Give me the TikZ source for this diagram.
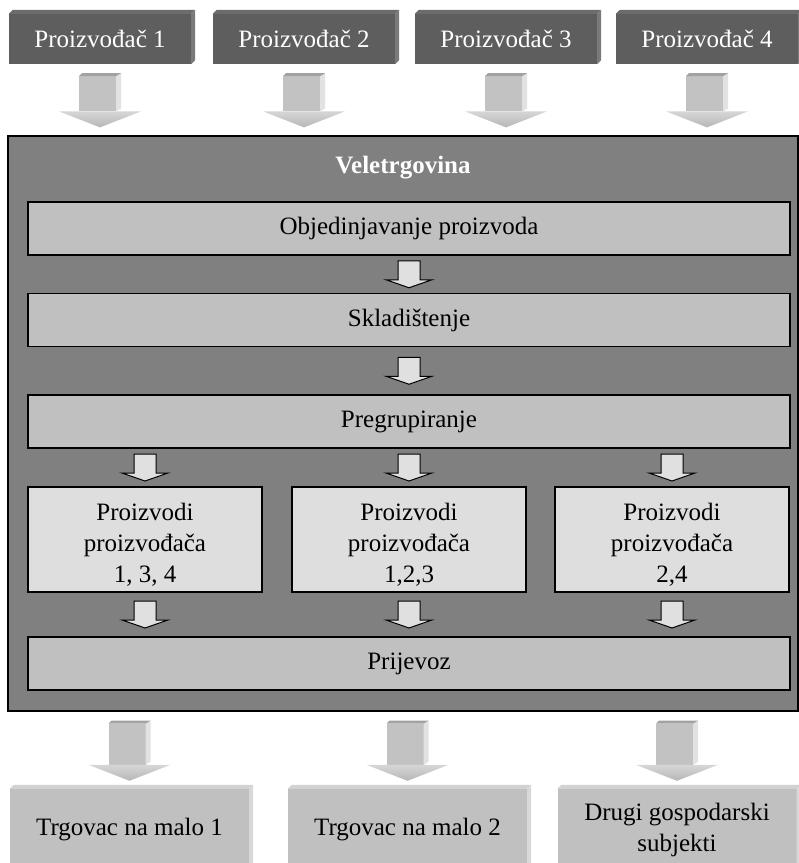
\documentclass[tikz,border=0pt]{standalone}
\usepackage{fontspec}
\setmainfont{Liberation Serif}
\usetikzlibrary{calc}

% small outlined arrow centred in the gap between two anchors
\newcommand{\flowarrow}[2]{%
    \path let \p1=(#1), \p2=(#2), \p3=($(\p1)!0.5!(\p2)$) in
        (\x2,\y3) coordinate (fa);
    \draw[flowarr] (fa) ++(-11pt,13.5pt) -- ++(22pt,0pt) -- ++(0pt,-19pt)
        -- ++(12pt,0pt) -- ++(-23pt,-8pt) -- ++(-23pt,8pt) -- ++(12pt,0pt) -- cycle;
}

% large shaded block arrow from one anchor down to another
\newcommand{\feedarrow}[2]{%
    \path let \p1=(#1), \p2=(#2) in
        (\x2,\y1-9pt) coordinate (fbtop)
        (\x2,\y2+8pt) coordinate (fbtip);
    \fill[shaftfront] ([xshift=-21pt,yshift=-3pt]fbtop) rectangle ([xshift=16pt,yshift=16pt]fbtip);
    \fill[shaftside] ([xshift=16pt,yshift=-3pt]fbtop) -- ([xshift=21pt]fbtop)
        -- ([xshift=21pt,yshift=19pt]fbtip) -- ([xshift=16pt,yshift=16pt]fbtip) -- cycle;
    \fill[shafttop] ([xshift=-21pt,yshift=-3pt]fbtop) -- ([xshift=-18pt]fbtop)
        -- ([xshift=21pt]fbtop) -- ([xshift=16pt,yshift=-3pt]fbtop) -- cycle;
    \shade[top color=headlight, bottom color=headdark]
        ([xshift=-41pt,yshift=16pt]fbtip) -- ([xshift=41pt,yshift=16pt]fbtip) -- (fbtip) -- cycle;
}

\begin{document}
\begin{tikzpicture}[
    x=1pt, y=-1pt,
    every node/.style={font=\fontsize{25}{31}\selectfont},
]

% ---------------------------------------------------------------- colours
\definecolor{makerfill}{HTML}{5E5E5E}   % the four producers
\definecolor{makertop}{HTML}{6C6C6C}
\definecolor{makerside}{HTML}{7A7A7A}
\definecolor{wsalefill}{HTML}{808080}   % the wholesaler frame
\definecolor{stagefill}{HTML}{C0C0C0}
\definecolor{groupfill}{HTML}{DEDEDE}
\definecolor{buyerfill}{HTML}{C0C0C0}
\definecolor{buyertop}{HTML}{D2D2D2}
\definecolor{buyerside}{HTML}{D8D8D8}
\definecolor{arrowfill}{HTML}{E0E0E0}
\definecolor{shaftfront}{HTML}{C2C2C2}
\definecolor{shaftside}{HTML}{E2E2E2}
\definecolor{shafttop}{HTML}{A2A2A2}
\definecolor{headlight}{HTML}{D6D6D6}
\definecolor{headdark}{HTML}{B6B6B6}

% ---------------------------------------------------------------- styles
\tikzset{
    maker/.style={
        rectangle, minimum width=182pt, minimum height=50pt, inner sep=0pt,
        fill=makerfill, text=white,
    },
    wsale/.style={
        rectangle, minimum width=790pt, minimum height=575pt, inner sep=0pt,
        draw=black, line width=1.3pt, fill=wsalefill,
    },
    stage/.style={
        rectangle, minimum width=762pt, minimum height=53pt, inner sep=0pt,
        draw=black, line width=1.2pt, fill=stagefill,
    },
    group/.style={
        rectangle, minimum width=234pt, minimum height=105pt, inner sep=0pt,
        draw=black, line width=1.2pt, fill=groupfill, align=center,
    },
    buyer/.style={
        rectangle, minimum width=239pt, minimum height=82pt, inner sep=0pt,
        fill=buyerfill, align=center,
    },
    flowarr/.style={draw=black, line width=1pt, fill=arrowfill},
    shaftfront/.style={fill=shaftfront},
    shaftside/.style={fill=shaftside},
    shafttop/.style={fill=shafttop},
}

\clip (0,0) rectangle (799,863);
\fill[white] (0,0) rectangle (799,863);

% ---------------------------------------------------------------- producers
\node[maker] (p1) at (100,39) {Proizvođač 1};
\node[maker] (p2) at (304,39) {Proizvođač 2};
\node[maker] (p3) at (506,39) {Proizvođač 3};
\node[maker] (p4) at (707,39) {Proizvođač 4};

\foreach \b in {p1,p2,p3,p4} {
    \fill[makertop] (\b.north west) -- ++(4pt,4pt)
        -- ([shift={(4pt,4pt)}]\b.north east) -- (\b.north east) -- cycle;
    \fill[makerside] (\b.north east) -- ++(4pt,4pt)
        -- ([shift={(4pt,4pt)}]\b.south east) -- (\b.south east) -- cycle;
}

% ---------------------------------------------------------------- wholesaler
\node[wsale] (ws) at (403,423.5) {};
\node[text=white, font=\fontsize{25}{31}\selectfont\bfseries] (wstitle) at (403,168) {Veletrgovina};

\foreach \b in {p1,p2,p3,p4} {
    \feedarrow{\b.south}{\b.south |- ws.north}
}

\node[stage] (obj)  at (409,228.5) {Objedinjavanje proizvoda};
\node[stage] (skl)  at (409,320)   {Skladištenje};
\node[stage] (preg) at (409,421.5) {Pregrupiranje};

\node[group] (c1) at (145,539.5) {\rule{0pt}{28pt}Proizvodi\\proizvođača\\1, 3, 4};
\node[group] (c2) at (409,539.5) {\rule{0pt}{28pt}Proizvodi\\proizvođača\\1,2,3};
\node[group] (c3) at (672,539.5) {\rule{0pt}{28pt}Proizvodi\\proizvođača\\2,4};

\node[stage] (prij) at (409,663.5) {Prijevoz};

\flowarrow{obj.south}{skl.north}
\flowarrow{skl.south}{preg.north}
\foreach \c in {c1,c2,c3} {
    \flowarrow{preg.south}{\c.north}
    \flowarrow{\c.south}{\c.south |- prij.north}
}

% ---------------------------------------------------------------- buyers
\node[buyer] (t1) at (129.5,830) {Trgovac na malo 1};
\node[buyer] (t2) at (407.5,830) {Trgovac na malo 2};
\node[buyer] (t3) at (677,830)   {Drugi gospodarski\\subjekti};

\foreach \b in {t1,t2,t3} {
    \fill[buyertop] (\b.north west) -- ++(4pt,4pt)
        -- ([shift={(4pt,4pt)}]\b.north east) -- (\b.north east) -- cycle;
    \fill[buyerside] (\b.north east) -- ++(4pt,4pt)
        -- ([shift={(4pt,4pt)}]\b.south east) -- (\b.south east) -- cycle;
    \feedarrow{ws.south}{\b.north}
}

\end{tikzpicture}
\end{document}
